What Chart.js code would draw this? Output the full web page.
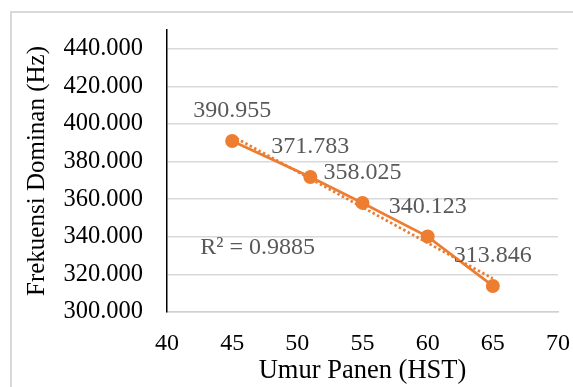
<!DOCTYPE html>
<html>
<head>
<meta charset="utf-8">
<script src="https://cdn.jsdelivr.net/npm/chart.js@4/dist/chart.umd.min.js"></script>
<style>
  html, body { margin: 0; padding: 0; background: #fff; }
  canvas { display: block; }
</style>
</head>
<body>
<canvas id="chart" width="573" height="387"></canvas>
<script>
// Umur panen (HST) vs frekuensi dominan (Hz)
const umurPanen = [45, 51, 55, 60, 65];
const frekuensiDominan = [390.955, 371.783, 358.025, 340.123, 313.846];

// Axis ticks
const xTickValues = [40, 45, 50, 55, 60, 65, 70];
const yTickValues = [300, 320, 340, 360, 380, 400, 420, 440];

// Linear trendline end points and its fit statistic
const trendUmur = [45, 65];
const trendFrekuensi = [393.6, 317.8];
const rSquaredText = 'R\u00B2 = 0.9885';

const ORANGE = '#ED7D31';
const SERIF = '"Liberation Serif", "Times New Roman", serif';
const rLabelAt = { x: 46.95, y: 334 };

const framePlugin = {
  id: 'frame',
  beforeDraw(chart) {
    const ctx = chart.ctx;
    ctx.save();
    ctx.fillStyle = '#ffffff';
    ctx.fillRect(0, 0, chart.width, chart.height);
    ctx.strokeStyle = '#d9d9d9';
    ctx.lineWidth = 2;
    ctx.strokeRect(11, 12, chart.width + 40, chart.height + 40);
    ctx.restore();
  }
};

const labelPlugin = {
  id: 'valueLabels',
  afterDatasetsDraw(chart) {
    const ctx = chart.ctx;
    const meta = chart.getDatasetMeta(0);
    ctx.save();
    ctx.font = '24px ' + SERIF;
    ctx.fillStyle = '#595959';
    ctx.textAlign = 'center';
    ctx.textBaseline = 'middle';
    meta.data.forEach((pt, i) => {
      ctx.fillText(frekuensiDominan[i].toFixed(3), pt.x, pt.y - 30);
    });
    const xs = chart.scales.x, ys = chart.scales.y;
    ctx.fillText(rSquaredText, xs.getPixelForValue(rLabelAt.x), ys.getPixelForValue(rLabelAt.y));
    ctx.restore();
  }
};

new Chart(document.getElementById('chart'), {
  type: 'scatter',
  data: {
    datasets: [
      {
        label: 'Frekuensi Dominan',
        data: umurPanen.map((x, i) => ({ x, y: frekuensiDominan[i] })),
        showLine: true,
        borderColor: ORANGE,
        backgroundColor: ORANGE,
        borderWidth: 2.75,
        pointRadius: 7,
        pointBorderWidth: 0,
        pointBackgroundColor: ORANGE
      },
      {
        label: 'Linear',
        data: trendUmur.map((x, i) => ({ x, y: trendFrekuensi[i] })),
        showLine: true,
        borderColor: ORANGE,
        borderWidth: 2.75,
        borderDash: [2.5, 2.5],
        pointRadius: 0
      }
    ]
  },
  options: {
    responsive: false,
    devicePixelRatio: 1,
    animation: false,
    layout: { padding: { left: 11, top: 30, right: 15, bottom: 0 } },
    plugins: {
      legend: { display: false },
      tooltip: { enabled: false }
    },
    scales: {
      x: {
        type: 'linear',
        min: 40,
        max: 70,
        afterBuildTicks(scale) { scale.ticks = xTickValues.map(v => ({ value: v })); },
        afterFit(scale) {
          scale.height = 75;
          scale.paddingLeft = 0;
          scale.paddingRight = 0;
        },
        grid: { display: false, drawTicks: false },
        border: { display: true, color: '#d0d0d0', width: 1.5 },
        ticks: {
          padding: 17,
          color: '#000',
          font: { family: SERIF, size: 24 },
          callback: v => String(v)
        },
        title: {
          display: true,
          text: 'Umur Panen (HST)',
          color: '#000',
          font: { family: SERIF, size: 26.5 },
          padding: { top: 0, bottom: 0 }
        }
      },
      y: {
        type: 'linear',
        min: 300,
        max: 450,
        afterBuildTicks(scale) { scale.ticks = yTickValues.map(v => ({ value: v })); },
        afterFit(scale) {
          scale.width = 156;
          scale.paddingTop = 0;
          scale.paddingBottom = 0;
        },
        grid: { color: '#d9d9d9', lineWidth: 1.5, drawTicks: false },
        border: { display: true, color: '#000', width: 1.5 },
        ticks: {
          padding: 24,
          color: '#000',
          font: { family: SERIF, size: 24.5 },
          callback: v => Number(v).toFixed(3)
        },
        title: {
          display: true,
          text: 'Frekuensi Dominan (Hz)',
          color: '#000',
          font: { family: SERIF, size: 25 },
          padding: { top: 11, bottom: 0 }
        }
      }
    }
  },
  plugins: [framePlugin, labelPlugin]
});
</script>
</body>
</html>
